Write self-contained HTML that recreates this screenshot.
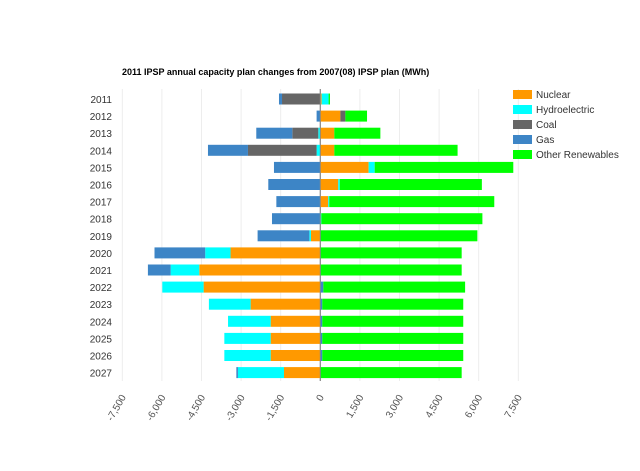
<!DOCTYPE html>
<html><head><meta charset="utf-8"><style>
body{margin:0;background:#fff;}
svg{display:block;font-family:"Liberation Sans",Arial,sans-serif;}
</style></head><body>
<svg id="chart" width="640" height="471" xmlns="http://www.w3.org/2000/svg">
<text x="122" y="75" font-size="9" font-weight="bold" fill="#000">2011 IPSP annual capacity plan changes from 2007(08) IPSP plan (MWh)</text>
<g id="grid"></g><g id="bars"></g><g id="ylabels"></g><g id="xlabels"></g><g id="legend"></g>
</svg>
<script>
const categories=['2011','2012','2013','2014','2015','2016','2017','2018','2019','2020','2021','2022','2023','2024','2025','2026','2027'];
const seriesNames=['Nuclear','Hydroelectric','Coal','Gas','Other Renewables'];
const nuclear=[50,760,530,530,1830,680,300,0,-355,-3400,-4585,-4420,-2640,-1880,-1880,-1880,-1375];
const hydro=[265,0,-75,-140,230,60,40,40,-60,-960,-1085,-1565,-1580,-1615,-1755,-1755,-1745];
const coal=[-1450,190,-985,-2600,0,0,0,0,0,0,0,0,0,0,0,0,0];
const gas=[-115,-140,-1365,-1515,-1755,-1970,-1665,-1830,-1960,-1920,-860,115,75,75,75,75,-60];
const renew=[50,820,1745,4670,5250,5380,6250,6100,5950,5355,5355,5370,5340,5340,5340,5340,5355];
const xTicks=[-7500,-6000,-4500,-3000,-1500,0,1500,3000,4500,6000,7500];
const colors=['#ff9900','#00ffff','#666666','#3d85c6','#00ff00'];
const NS='http://www.w3.org/2000/svg';
const x0=320.3,k=0.0264,yTop=89,rowH=17.1,barH=11;
const X=v=>x0+v*k;
const Yc=i=>yTop+10+i*rowH;
function mk(t,a,p){const e=document.createElementNS(NS,t);for(const n in a)e.setAttribute(n,a[n]);p.appendChild(e);return e;}
const g=document.getElementById('grid');
xTicks.forEach(v=>{
 const l=mk('line',{x1:X(v),x2:X(v),y1:yTop,y2:381,stroke:v===0?'#888':'#ededed','stroke-width':1},g);
 
 
 const t=mk('text',{x:X(v)+4,y:397,'font-size':10,fill:'#555','text-anchor':'end',transform:`rotate(-60 ${X(v)+4} 397)`},document.getElementById('xlabels'));
 t.textContent=v.toLocaleString('en-US');
 
 
});
const series=[nuclear,hydro,coal,gas,renew];
const b=document.getElementById('bars');
categories.forEach((c,i)=>{
 let pos=0,neg=0;
 series.forEach((s,j)=>{
  const v=s[i];if(!v)return;
  let a,bb;
  if(v>0){a=pos;pos+=v;bb=pos;}else{a=neg;neg+=v;bb=neg;}
  const x1=Math.min(X(a),X(bb)),w=Math.abs(X(bb)-X(a));
  const r=mk('rect',{x:x1,y:Yc(i)-barH/2,width:w,height:barH,fill:colors[j]},b);
  
  
 });
 const t=mk('text',{x:112,y:Yc(i)+4,'font-size':10,fill:'#333','text-anchor':'end'},document.getElementById('ylabels'));
 t.textContent=c;
 
 
});
mk('line',{x1:X(0),x2:X(0),y1:yTop,y2:381,stroke:'#888','stroke-width':1},b);
const lg=document.getElementById('legend');
seriesNames.forEach((n,j)=>{
 const gg=mk('g',{},lg);
 
 
 mk('rect',{x:513,y:90+j*15,width:19,height:9,fill:colors[j]},gg);
 const t=mk('text',{x:536,y:98+j*15,'font-size':10,fill:'#333'},gg);
 t.textContent=n;
});
</script>
</body></html>
